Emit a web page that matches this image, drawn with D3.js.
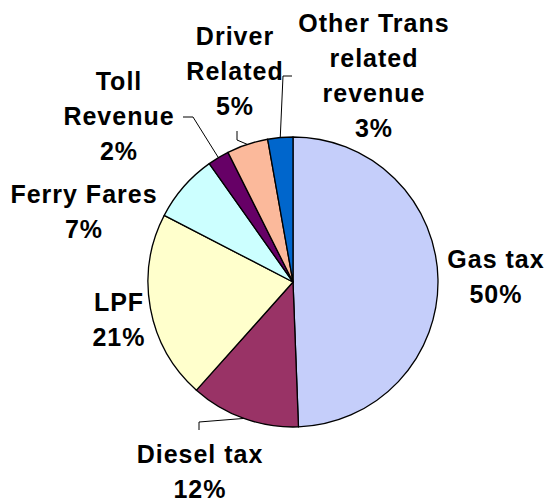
<!DOCTYPE html>
<html>
<head>
<meta charset="utf-8">
<script src="https://cdn.jsdelivr.net/npm/d3@7"></script>
<style>
  html, body { margin: 0; padding: 0; background: #ffffff; }
  svg text { font-family: "Liberation Sans", Arial, sans-serif; font-weight: bold; font-size: 25px; letter-spacing: 1px; fill: #000; }
</style>
</head>
<body>
<svg id="chart" width="544" height="502"></svg>
<script>
// ---- data ----
const categories = ["Gas tax", "Diesel tax", "LPF", "Ferry Fares", "Toll Revenue", "Driver Related", "Other Trans related revenue"];
const values = [49.4, 12.2, 21.0, 7.6, 2.4, 4.6, 2.8];
const percentLabels = ["50%", "12%", "21%", "7%", "2%", "5%", "3%"];
const labelLines = [
  ["Gas tax", "50%"],
  ["Diesel tax", "12%"],
  ["LPF", "21%"],
  ["Ferry Fares", "7%"],
  ["Toll", "Revenue", "2%"],
  ["Driver", "Related", "5%"],
  ["Other Trans", "related", "revenue", "3%"]
];
const colors = ["#C5CEFA", "#993366", "#FFFFCC", "#CCFFFF", "#660066", "#FBB99B", "#0066CC"];

// ---- layout ----
const cx = 293, cy = 282, R = 145;
const lineH = 35;
// label center x and first baseline y
const labelPos = [
  [496, 268],
  [200, 463],
  [119, 311],
  [84, 203],
  [119, 90],
  [235, 45],
  [374, 32]
];
// leader lines: fixed points from label side, ending at the slice edge
const leaders = {
  1: [[199, 430], [199, 422]],
  4: [[183, 117], [193, 117]],
  5: [[237, 131], [237, 140]],
  6: [[292, 76], [283, 76]]
};

const svg = d3.select("#chart");
const g = svg.append("g").attr("transform", `translate(${cx},${cy})`);

const pie = d3.pie().sort(null).value(d => d)(values);
const arc = d3.arc().innerRadius(0).outerRadius(R);

g.selectAll("path.slice")
  .data(pie)
  .join("path")
  .attr("class", "slice")
  .attr("d", arc)
  .attr("fill", (d, i) => colors[i])
  .attr("stroke", "#000")
  .attr("stroke-width", 1.3)
  .attr("stroke-linejoin", "round");

// leader lines
Object.keys(leaders).forEach(k => {
  const i = +k;
  const d = pie[i];
  const mid = (d.startAngle + d.endAngle) / 2;
  const edge = [cx + R * Math.sin(mid), cy - R * Math.cos(mid)];
  const pts = leaders[k].concat([edge]);
  svg.append("path")
    .attr("d", d3.line()(pts))
    .attr("fill", "none")
    .attr("stroke", "#000")
    .attr("stroke-width", 1);
});

// labels
labelLines.forEach((lines, i) => {
  const [x, y] = labelPos[i];
  const t = svg.append("text").attr("text-anchor", "middle");
  lines.forEach((ln, j) => {
    t.append("tspan").attr("x", x).attr("y", y + j * lineH).text(ln);
  });
});
</script>
</body>
</html>
